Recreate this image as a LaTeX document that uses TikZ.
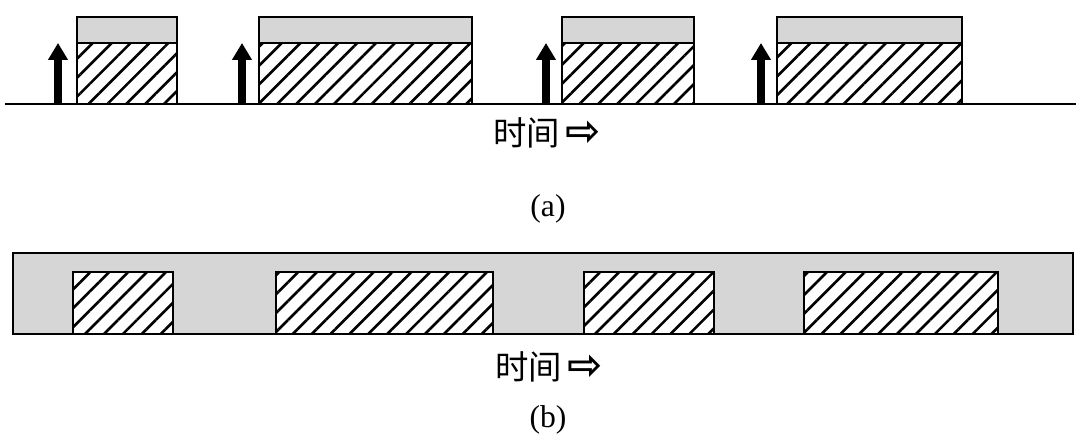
\documentclass[tikz,border=0pt]{standalone}
\usepackage{fontspec}
\setmainfont{Liberation Serif}
\newfontfamily\cjkfont{Noto Sans CJK SC}
\newfontfamily\symfont{DejaVu Sans}
\usetikzlibrary{arrows.meta,patterns.meta}
\definecolor{BarGray}{HTML}{D6D6D6}

\begin{document}
\begin{tikzpicture}[
  x=0.02cm, y=-0.02cm,
  % ── time axis and labels ─────────────────────────────────────────────────
  axis/.style={draw=black, line width=1.1pt},
  timelbl/.style={font=\fontsize{19}{19}\selectfont\cjkfont, inner sep=0pt},
  caplbl/.style={font=\fontsize{18}{18}\selectfont, inner sep=0pt},
  % ── hatched (busy) block and grey (overhead) strip ───────────────────────
  busy/.style={draw=black, line width=1pt, fill=white,
    postaction={pattern={Lines[angle=45, distance=7.6pt, line width=1.5pt]}}},
  strip/.style={draw=black, line width=1pt, fill=BarGray},
  % ── thick upward event arrows ────────────────────────────────────────────
  evt/.style={-{Triangle[length=0.34cm, width=0.38cm]}, line width=4.4pt},
]
\useasboundingbox (0,0) rectangle (1080,438);

%% ── (a) separate blocks, each started by an event ─────────────────────────
\foreach \xa/\xb/\xe [count=\i] in {77/177/58, 259/472/242, 562/694/546, 777/962/761}{
  \draw[strip] (\xa,17) rectangle (\xb,43);
  \draw[busy]  (\xa,43) rectangle (\xb,104);
  \coordinate (E\i) at (\xe,104);
  \coordinate (T\i) at (\xe,43);
  \draw[evt] (E\i) -- (T\i);
}
\coordinate (A0) at (5,104);
\coordinate (A1) at (1076,104);
\draw[axis] (A0) -- (A1);

\node[timelbl] (timeA) at (547,133) {时间\,{\symfont\bfseries\fontsize{24}{24}\selectfont ⇨}};
\node[caplbl]  (capA)  at (548,209) {(a)};

%% ── (b) one long grey bar with blocks inside ──────────────────────────────
\draw[strip, line width=1.4pt] (13,253) rectangle (1073,334);
\foreach \xa/\xb in {73/173, 276/493, 584/714, 804/998}{
  \draw[busy] (\xa,272) rectangle (\xb,334);
}
\draw[line width=1.4pt] (13,334) -- (1073,334);

\node[timelbl] (timeB) at (549,367) {时间\,{\symfont\bfseries\fontsize{24}{24}\selectfont ⇨}};
\node[caplbl]  (capB)  at (548,420) {(b)};

\end{tikzpicture}
\end{document}
